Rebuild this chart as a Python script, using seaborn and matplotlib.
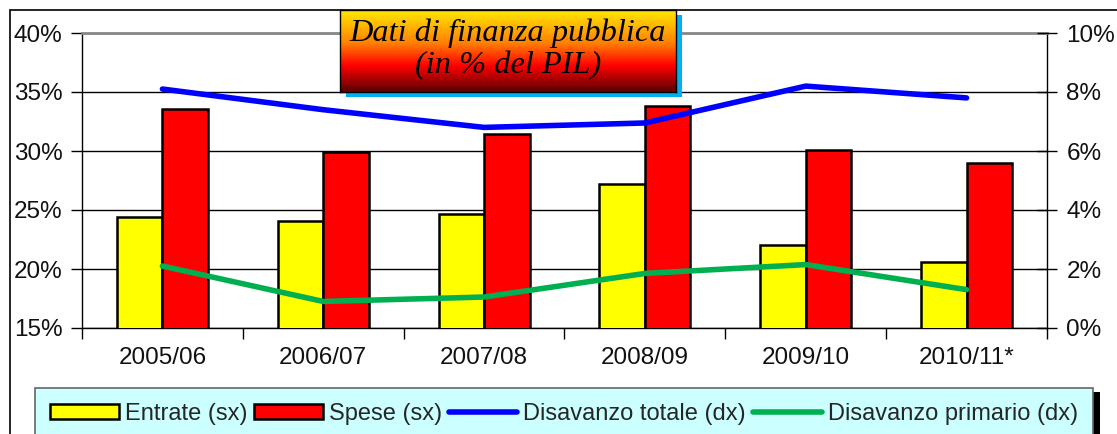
import numpy as np
import pandas as pd
import seaborn as sns
import matplotlib.pyplot as plt
from matplotlib.colors import LinearSegmentedColormap
from matplotlib.lines import Line2D
from matplotlib.patches import Patch, Rectangle
from matplotlib.ticker import FuncFormatter, FixedLocator

anni = ['2005/06', '2006/07', '2007/08', '2008/09', '2009/10', '2010/11*']
entrate = [24.4, 24.1, 24.7, 27.2, 22.0, 20.6]
spese = [33.6, 29.9, 31.4, 33.8, 30.1, 29.0]
disavanzo_totale = [8.1, 7.4, 6.8, 6.95, 8.2, 7.8]
disavanzo_primario = [2.1, 0.9, 1.05, 1.85, 2.15, 1.3]

sns.set_theme(style='white')
plt.rcParams['font.family'] = ['Liberation Sans', 'DejaVu Sans']

bars = pd.DataFrame({
    'anno': anni * 2,
    'valore': entrate + spese,
    'serie': ['Entrate (sx)'] * 6 + ['Spese (sx)'] * 6,
})

fig = plt.figure(figsize=(11.17, 4.34), dpi=100)
ax = fig.add_axes([82 / 1117, 106 / 434, 965 / 1117, 295 / 434])

sns.barplot(data=bars, x='anno', y='valore', hue='serie', ax=ax,
            palette=['#FFFF00', '#FF0000'], saturation=1, edgecolor='black',
            linewidth=1.8, width=0.565, gap=0, legend=False, zorder=3)
ax.set_ylim(15, 40)
ax.set_xlim(-0.5, 5.5)
ax.set_yticks([15, 20, 25, 30, 35, 40])
ax.yaxis.set_major_formatter(FuncFormatter(lambda v, p: f'{v:.0f}%'))
ax.set_xlabel('')
ax.set_ylabel('')
ax.grid(axis='y', color='black', linewidth=1)
ax.set_axisbelow(True)
ax.tick_params(axis='y', which='major', direction='out', length=8, width=1,
               color='black', labelsize=17.5, left=True, pad=6,
               labelcolor='#111111')
ax.tick_params(axis='x', which='major', length=0, labelsize=17.5, pad=14,
               labelcolor='#111111')
ax.xaxis.set_minor_locator(FixedLocator(np.arange(-0.5, 6, 1)))
ax.tick_params(axis='x', which='minor', direction='out', length=8, width=1,
               color='black', bottom=True)
for s in ['left', 'bottom', 'right']:
    ax.spines[s].set_color('black')
    ax.spines[s].set_linewidth(1)
ax.spines['top'].set_color('#888888')
ax.spines['top'].set_linewidth(2)

ax2 = ax.twinx()
sns.lineplot(x=np.arange(6), y=disavanzo_totale, ax=ax2, color='#0000FF',
             linewidth=4)
sns.lineplot(x=np.arange(6), y=disavanzo_primario, ax=ax2, color='#00B050',
             linewidth=4)
ax2.set_ylim(0, 10)
ax2.set_yticks([0, 2, 4, 6, 8, 10])
ax2.yaxis.set_major_formatter(FuncFormatter(lambda v, p: f'{v:.0f}%'))
ax2.tick_params(axis='y', direction='inout', length=14, width=1,
                color='black', labelsize=17.5, right=True, pad=7,
                labelcolor='#111111')
for s in ax2.spines.values():
    s.set_visible(False)

# cornice esterna
fig.patches.append(Rectangle((10 / 1117, -0.2), 1.2, 0.2 + 424 / 434,
                             transform=fig.transFigure, fill=False,
                             edgecolor='black', linewidth=1.2))

# riquadro del titolo
fig.patches.append(Rectangle((346 / 1117, (434 - 97) / 434), 336 / 1117, 82 / 434,
                             transform=fig.transFigure, facecolor='#00B0F0',
                             edgecolor='none', zorder=5))
tax = fig.add_axes([340 / 1117, (434 - 92) / 434, 336 / 1117, 82 / 434], zorder=6)
cmap = LinearSegmentedColormap.from_list(
    'titolo', [(0, '#FFE800'), (0.4, '#FF8000'), (0.68, '#FF0000'), (1, '#5A0000')])
tax.imshow(np.linspace(0, 1, 100).reshape(-1, 1), aspect='auto', cmap=cmap,
           extent=[0, 1, 0, 1], origin='upper')
tax.set_xticks([])
tax.set_yticks([])
for s in tax.spines.values():
    s.set_color('black')
    s.set_linewidth(1)
tax.text(0.5, 0.52, 'Dati di finanza pubblica\n(in % del PIL)', ha='center',
         va='center', fontsize=23.3, style='italic', family='Liberation Serif',
         color='black', linespacing=1.1, transform=tax.transAxes)

# legenda
fig.patches.append(Rectangle((42 / 1117, -0.1), 1058 / 1117, 0.1 + 42 / 434,
                             transform=fig.transFigure, facecolor='black',
                             edgecolor='none', zorder=1))
handles = [
    Patch(facecolor='#FFFF00', edgecolor='black', linewidth=1.8),
    Patch(facecolor='#FF0000', edgecolor='black', linewidth=1.8),
    Line2D([], [], color='#0000FF', linewidth=4),
    Line2D([], [], color='#00B050', linewidth=4),
]
labels = ['Entrate (sx)', 'Spese (sx)', 'Disavanzo totale (dx)',
          'Disavanzo primario (dx)']
leg = fig.legend(handles, labels, loc='upper left', ncol=4,
                 bbox_to_anchor=(35 / 1117, 41.7 / 434, 1058 / 1117, 0.01),
                 mode='expand', fontsize=17, frameon=True, fancybox=False,
                 handlelength=2.9, handleheight=0.6, handletextpad=0.25,
                 borderpad=0.65, borderaxespad=0, columnspacing=1.0)
leg.get_frame().set_facecolor('#CCFFFF')
leg.get_frame().set_edgecolor('#666666')
leg.get_frame().set_linewidth(1.2)
leg.get_frame().set_alpha(1)
leg.set_zorder(2)

fig.savefig('out.png', dpi=100)
